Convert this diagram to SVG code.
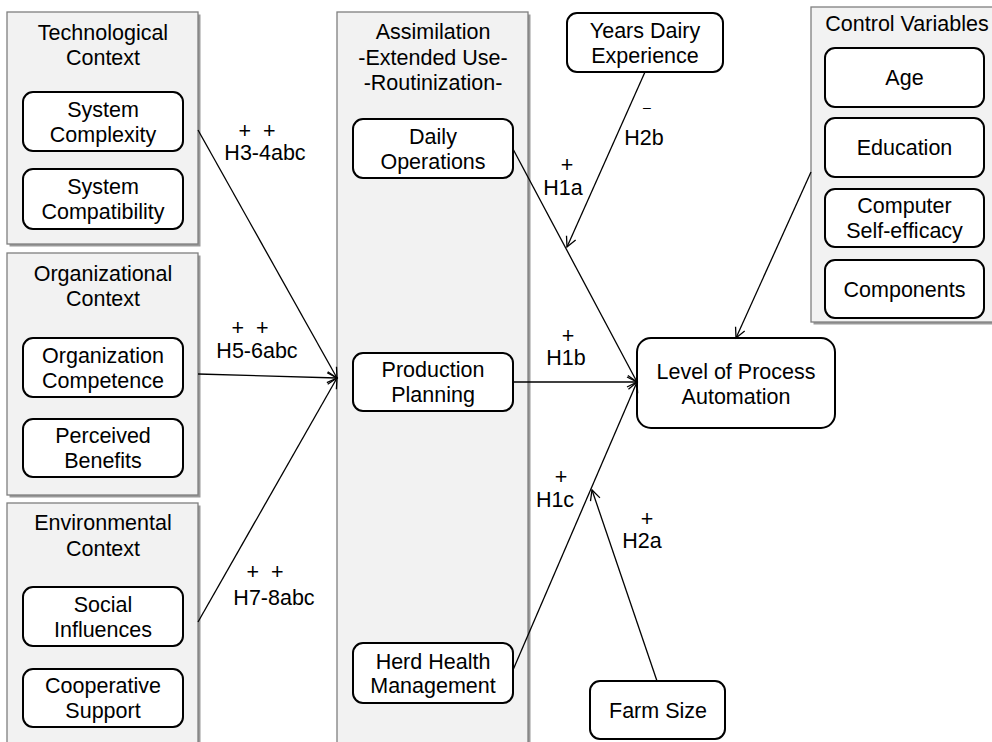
<svg xmlns="http://www.w3.org/2000/svg" width="992" height="742" viewBox="0 0 992 742">
  <style>
    text { font-family: "Liberation Sans", Arial, sans-serif; font-size: 21.5px; fill: #000; text-anchor: middle; }
    .group { fill: #f2f2f2; stroke: #7f7f7f; stroke-width: 1.3; }
    .shadow { fill: #9a9a9a; }
    .box { fill: #fff; stroke: #000; stroke-width: 2; }
    .link { stroke: #000; stroke-width: 1.3; fill: none; marker-end: url(#open); }
    .dash { font-size: 14px; }
  </style>
  <defs>
    <marker id="open" markerUnits="userSpaceOnUse" markerWidth="14" markerHeight="14" refX="11" refY="6" orient="auto">
      <path d="M1,1 L11,6 L1,11" fill="none" stroke="#000" stroke-width="1.3"/>
    </marker>
  </defs>

  <rect width="992" height="742" fill="#fff"/>

  <!-- Technological context -->
  <g id="technological-context">
    <rect class="shadow" x="9.5" y="14.5" width="191" height="232"/>
    <rect class="group" x="7" y="12" width="191" height="232"/>
    <text x="103" y="40">Technological</text>
    <text x="103" y="65">Context</text>
  </g>
  <g id="system-complexity">
    <rect class="box" x="23" y="92" width="160" height="59" rx="10"/>
    <text x="103" y="117">System</text>
    <text x="103" y="142">Complexity</text>
  </g>
  <g id="system-compatibility">
    <rect class="box" x="23" y="169" width="160" height="60" rx="10"/>
    <text x="103" y="194">System</text>
    <text x="103" y="219">Compatibility</text>
  </g>

  <!-- Organizational context -->
  <g id="organizational-context">
    <rect class="shadow" x="9.5" y="255.5" width="191" height="242"/>
    <rect class="group" x="7" y="253" width="191" height="242"/>
    <text x="103" y="281">Organizational</text>
    <text x="103" y="306">Context</text>
  </g>
  <g id="organization-competence">
    <rect class="box" x="23" y="338" width="160" height="59" rx="10"/>
    <text x="103" y="362.5">Organization</text>
    <text x="103" y="387.5">Competence</text>
  </g>
  <g id="perceived-benefits">
    <rect class="box" x="23" y="419" width="160" height="58" rx="10"/>
    <text x="103" y="443">Perceived</text>
    <text x="103" y="468">Benefits</text>
  </g>

  <!-- Environmental context -->
  <g id="environmental-context">
    <rect class="shadow" x="9.5" y="505.5" width="191" height="260"/>
    <rect class="group" x="7" y="503" width="191" height="260"/>
    <text x="103" y="530">Environmental</text>
    <text x="103" y="556">Context</text>
  </g>
  <g id="social-influences">
    <rect class="box" x="23" y="587" width="160" height="59" rx="10"/>
    <text x="103" y="611.5">Social</text>
    <text x="103" y="636.5">Influences</text>
  </g>
  <g id="cooperative-support">
    <rect class="box" x="23" y="669" width="160" height="58" rx="10"/>
    <text x="103" y="693">Cooperative</text>
    <text x="103" y="718">Support</text>
  </g>

  <!-- Assimilation -->
  <g id="assimilation">
    <rect class="shadow" x="339.5" y="14.5" width="191" height="750"/>
    <rect class="group" x="337" y="12" width="191" height="750"/>
    <text x="433" y="39">Assimilation</text>
    <text x="433" y="65">-Extended Use-</text>
    <text x="433" y="90">-Routinization-</text>
  </g>
  <g id="daily-operations">
    <rect class="box" x="353" y="119" width="160" height="59" rx="10"/>
    <text x="433" y="143.5">Daily</text>
    <text x="433" y="168.5">Operations</text>
  </g>
  <g id="production-planning">
    <rect class="box" x="353" y="353" width="160" height="58" rx="10"/>
    <text x="433" y="377">Production</text>
    <text x="433" y="402">Planning</text>
  </g>
  <g id="herd-health-management">
    <rect class="box" x="353" y="643" width="160" height="60" rx="10"/>
    <text x="433" y="668.5">Herd Health</text>
    <text x="433" y="693">Management</text>
  </g>

  <!-- Moderators and outcome -->
  <g id="years-dairy-experience">
    <rect class="box" x="567" y="13" width="156" height="59" rx="10"/>
    <text x="645" y="37.5">Years Dairy</text>
    <text x="645" y="62.5">Experience</text>
  </g>
  <g id="farm-size">
    <rect class="box" x="590" y="681" width="135" height="58" rx="10"/>
    <text x="658" y="717.5">Farm Size</text>
  </g>
  <g id="level-of-process-automation">
    <rect class="box" x="637" y="338" width="198" height="90" rx="14"/>
    <text x="736" y="378.5">Level of Process</text>
    <text x="736" y="403.5">Automation</text>
  </g>

  <!-- Control variables -->
  <g id="control-variables">
    <rect class="shadow" x="813.5" y="9.5" width="192" height="315"/>
    <rect class="group" x="811" y="7" width="192" height="315"/>
    <text x="907" y="31">Control Variables</text>
  </g>
  <g id="age">
    <rect class="box" x="825" y="48" width="159" height="59" rx="10"/>
    <text x="904.5" y="85">Age</text>
  </g>
  <g id="education">
    <rect class="box" x="825" y="118" width="159" height="59" rx="10"/>
    <text x="904.5" y="155">Education</text>
  </g>
  <g id="computer-self-efficacy">
    <rect class="box" x="825" y="189" width="159" height="58" rx="10"/>
    <text x="904.5" y="213">Computer</text>
    <text x="904.5" y="238">Self-efficacy</text>
  </g>
  <g id="components">
    <rect class="box" x="825" y="260" width="159" height="58" rx="10"/>
    <text x="904.5" y="296.5">Components</text>
  </g>

  <!-- Connectors -->
  <g id="connectors">
    <line class="link" x1="198" y1="130" x2="337" y2="378"/>
    <line class="link" x1="198" y1="374" x2="337" y2="378"/>
    <line class="link" x1="198" y1="622" x2="337" y2="378"/>
    <line class="link" x1="513" y1="149" x2="637" y2="382"/>
    <line class="link" x1="513" y1="382" x2="637" y2="382"/>
    <line class="link" x1="513" y1="670" x2="637" y2="382"/>
    <line class="link" x1="645" y1="72" x2="567" y2="247"/>
    <line class="link" x1="657" y1="681" x2="592" y2="490"/>
    <line class="link" x1="811" y1="172" x2="736" y2="338"/>
  </g>

  <!-- Hypothesis labels -->
  <g id="labels">
    <text x="257" y="138" xml:space="preserve">+  +</text>
    <text x="265" y="160">H3-4abc</text>
    <text x="250" y="335" xml:space="preserve">+  +</text>
    <text x="257" y="358">H5-6abc</text>
    <text x="265" y="579" xml:space="preserve">+  +</text>
    <text x="274" y="605">H7-8abc</text>
    <text x="567" y="172">+</text>
    <text x="563" y="195">H1a</text>
    <text class="dash" x="647" y="112">–</text>
    <text x="644" y="145">H2b</text>
    <text x="568" y="343">+</text>
    <text x="566" y="365">H1b</text>
    <text x="561" y="484">+</text>
    <text x="555" y="507">H1c</text>
    <text x="647" y="526">+</text>
    <text x="642" y="548">H2a</text>
  </g>
</svg>
